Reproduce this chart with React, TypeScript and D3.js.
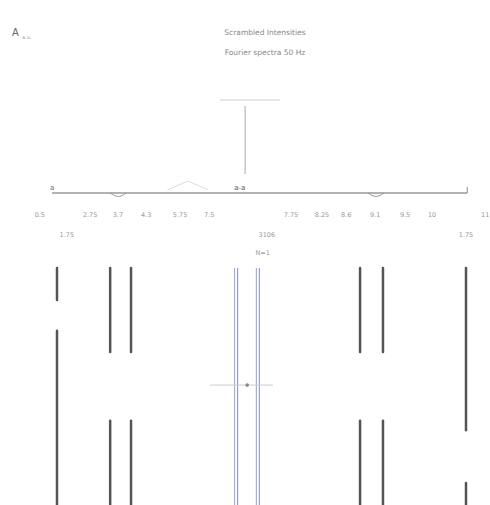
import React from 'react';
import * as d3 from 'd3';

// positions along the track, in track units
const tickValues = [-0.42, 0.81, 1.49, 2.18, 3.01, 3.72, 5.72, 6.48, 7.07, 7.78, 8.51, 9.17, 10.47];
const tickLabels = ['0.5', '2.75', '3.7', '4.3', '5.75', '7.5', '7.75', '8.25', '8.6', '9.1', '9.5', '10', '11'];
const subValues = [0.24, 5.13, 10.0];
const subLabels = ['1.75', '3106', '1.75'];

// lanes: position, colour group, occupied segments (0..100 down the lane)
const laneX = [0, 1.3, 1.81, 4.38, 4.91, 7.41, 7.97, 10];
const laneKind = ['grey', 'grey', 'grey', 'blue', 'blue', 'grey', 'grey', 'grey'];
const laneSegments = [
  [[0, 13.5], [26.5, 100]],
  [[0, 35.4], [64.5, 100]],
  [[0, 35.4], [64.5, 100]],
  [[0, 100]],
  [[0, 100]],
  [[0, 35.4], [64.5, 100]],
  [[0, 35.4], [64.5, 100]],
  [[0, 68.5], [90.7, 100]],
];

// mean marker with spread
const meanValue = 4.65;
const spreadLow = 3.74;
const spreadHigh = 5.28;
const meanDepth = 49.4;

const stemValue = 4.6;
const bumpValues = [1.5, 7.8];

export default function App() {
  const width = 490;
  const height = 505;
  const x = d3.scaleLinear().domain([0, 10]).range([57, 466]);
  const y = d3.scaleLinear().domain([0, 100]).range([268, 505]);
  const axisY = 193;

  const bump = (v: number) => {
    const p = d3.path();
    p.moveTo(x(v) - 8, axisY);
    p.quadraticCurveTo(x(v), axisY + 7, x(v) + 8, axisY);
    return p.toString();
  };

  return (
    <svg
      width={width}
      height={height}
      style={{ position: 'absolute', left: 0, top: 0, background: '#fff' }}
      fontFamily="'DejaVu Sans', sans-serif"
    >
      <text x={12} y={36} fontSize={10} fill="#666">A</text>
      <text x={22} y={39} fontSize={5} fill="#999">a.u.</text>

      <text x={265} y={35} fontSize={7.5} fill="#888" textAnchor="middle">Scrambled Intensities</text>
      <text x={265} y={55} fontSize={7.5} fill="#888" textAnchor="middle">Fourier spectra 50 Hz</text>

      {/* stem above the track */}
      <line x1={x(stemValue) - 25} x2={x(stemValue) + 35} y1={100} y2={100} stroke="#ccc" strokeWidth={1} />
      <line x1={x(stemValue)} x2={x(stemValue)} y1={106} y2={174} stroke="#aaa" strokeWidth={1} />

      {/* track */}
      <line x1={x(-0.12)} x2={x(10.03)} y1={axisY} y2={axisY} stroke="#666" strokeWidth={1.2} />
      <line x1={x(10.03)} x2={x(10.03)} y1={axisY - 6} y2={axisY} stroke="#888" />
      <text x={x(-0.12)} y={axisY - 3} fontSize={7} fill="#666" textAnchor="middle">a</text>
      {bumpValues.map((v, i) => (
        <path key={i} d={bump(v)} fill="none" stroke="#888" strokeWidth={0.8} />
      ))}
      <path
        d={`M${x(2.7)},${axisY - 3}L${x(3.2)},${axisY - 12}L${x(3.7)},${axisY - 3}`}
        fill="none"
        stroke="#ddd"
      />
      <text x={x(4.47)} y={axisY - 3} fontSize={7} fill="#555" textAnchor="middle">a-a</text>

      {tickValues.map((v, i) => (
        <text key={i} x={x(v)} y={217} fontSize={6.5} fill="#999" textAnchor="middle">
          {tickLabels[i]}
        </text>
      ))}
      {subValues.map((v, i) => (
        <text key={i} x={x(v)} y={237} fontSize={6.5} fill="#999" textAnchor="middle">
          {subLabels[i]}
        </text>
      ))}
      <text x={x(5.03)} y={255} fontSize={6.5} fill="#999" textAnchor="middle">N=1</text>

      {/* lanes */}
      {laneX.map((v, i) =>
        laneSegments[i].map((s, j) =>
          laneKind[i] === 'blue' ? (
            <g key={`${i}-${j}`}>
              <line x1={x(v) - 1.5} x2={x(v) - 1.5} y1={y(s[0])} y2={y(s[1])} stroke="#9aa0c0" strokeWidth={1} />
              <line x1={x(v) + 1.5} x2={x(v) + 1.5} y1={y(s[0])} y2={y(s[1])} stroke="#7c8ccc" strokeWidth={1} />
            </g>
          ) : (
            <line
              key={`${i}-${j}`}
              x1={x(v)}
              x2={x(v)}
              y1={y(s[0])}
              y2={y(s[1])}
              stroke="#555"
              strokeWidth={2.5}
              strokeLinecap="round"
            />
          )
        )
      )}

      {/* mean and spread */}
      <line x1={x(spreadLow)} x2={x(spreadHigh)} y1={y(meanDepth)} y2={y(meanDepth)} stroke="#ccc" strokeWidth={1} />
      <circle cx={x(meanValue)} cy={y(meanDepth)} r={1.8} fill="#888" />
    </svg>
  );
}
